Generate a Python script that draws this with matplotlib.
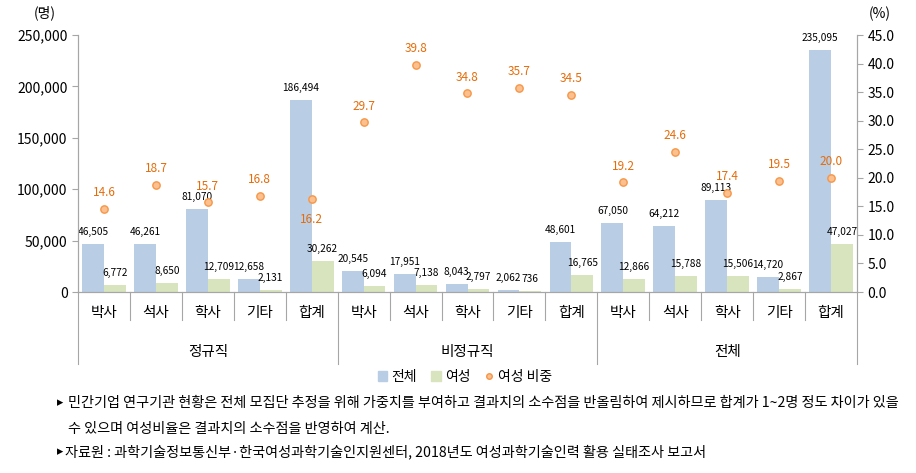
import numpy as np
import matplotlib.pyplot as plt
from matplotlib.lines import Line2D
from matplotlib.patches import Patch

plt.rcParams['font.family'] = ['Noto Sans CJK KR', 'DejaVu Sans']

# --- Data ---
groups = ['정규직', '비정규직', '전체']
degrees = ['박사', '석사', '학사', '기타', '합계']
total = [46505, 46261, 81070, 12658, 186494,
         20545, 17951, 8043, 2062, 48601,
         67050, 64212, 89113, 14720, 235095]
female = [6772, 8650, 12709, 2131, 30262,
          6094, 7138, 2797, 736, 16765,
          12866, 15788, 15506, 2867, 47027]
ratio = [14.6, 18.7, 15.7, 16.8, 16.2,
         29.7, 39.8, 34.8, 35.7, 34.5,
         19.2, 24.6, 17.4, 19.5, 20.0]
below = [4]  # ratio labels placed under the marker

blue = '#B9CDE5'
green = '#D7E4BD'
orange = '#F79646'
orange_txt = '#E46C0A'
gray = '#A6A6A6'

n = len(total)
x = np.arange(n)
w = 0.42

fig = plt.figure(figsize=(9.16, 4.73), dpi=100)
ax = fig.add_axes([78 / 916, 1 - 292 / 473, 779 / 916, 257 / 473])
ax2 = ax.twinx()

ax.bar(x - w / 2, total, w, color=blue, zorder=2)
ax.bar(x + w / 2, female, w, color=green, zorder=2)
for i in range(n):
    ax.annotate(f'{total[i]:,}', (x[i] - w / 2, total[i]), xytext=(0, 5),
                textcoords='offset points', ha='center', va='bottom', fontsize=7.3)
    ax.annotate(f'{female[i]:,}', (x[i] + w / 2, female[i]), xytext=(0, 5),
                textcoords='offset points', ha='center', va='bottom', fontsize=7.3)

ax2.scatter(x, ratio, s=28, color='#FAC090', edgecolors=orange, linewidths=1, zorder=3)
for i in range(n):
    dy = -10 if i in below else 7
    ax2.annotate(f'{ratio[i]:.1f}', (x[i], ratio[i]), xytext=(0, dy),
                 textcoords='offset points', ha='center',
                 va='top' if i in below else 'bottom', fontsize=8.5, color=orange_txt)

ax.set_xlim(-0.5, n - 0.5)
ax.set_ylim(0, 250000)
ax.set_yticks(np.arange(0, 250001, 50000))
ax.set_yticklabels([f'{v:,}' for v in range(0, 250001, 50000)], fontsize=10)
ax2.set_ylim(0, 45)
ax2.set_yticks(np.arange(0, 45.1, 5))
ax2.set_yticklabels([f'{v:.1f}' for v in np.arange(0, 45.1, 5)], fontsize=10)
ax.set_xticks([])

for a in (ax, ax2):
    a.spines['top'].set_visible(False)
    for s in ('left', 'right', 'bottom'):
        a.spines[s].set_color(gray)
    a.tick_params(axis='y', color=gray, length=4)

# category axis: labels and separators
tr = ax.get_xaxis_transform()
for i in range(n):
    ax.text(x[i], -0.08, degrees[i % 5], transform=tr, ha='center', va='center', fontsize=10.5)
for b in np.arange(n + 1) - 0.5:
    low = -0.28 if (b + 0.5) % 5 == 0 else -0.11
    ax.plot([b, b], [0, low], transform=tr, color=gray, lw=0.8, clip_on=False)
for g, name in enumerate(groups):
    ax.text(g * 5 + 2, -0.235, name, transform=tr, ha='center', va='center', fontsize=10.5)

fig.text(45 / 916, 1 - 13 / 473, '(명)', ha='center', va='center', fontsize=10)
fig.text(880 / 916, 1 - 14 / 473, '(%)', ha='center', va='center', fontsize=10)

handles = [Patch(color=blue), Patch(color=green),
           Line2D([], [], ls='', marker='o', ms=4, mfc='#FAC090', mec=orange)]
fig.legend(handles, ['전체', '여성', '여성 비중'], loc='center', bbox_to_anchor=(465 / 916, 1 - 377 / 473),
           ncol=3, frameon=False, fontsize=10, handlelength=0.7, handletextpad=0.3, columnspacing=1.0)

notes = ['민간기업 연구기관 현황은 전체 모집단 추정을 위해 가중치를 부여하고 결과치의 소수점을 반올림하여 제시하므로 합계가 1~2명 정도 차이가 있을',
         '수 있으며 여성비율은 결과치의 소수점을 반영하여 계산.',
         '자료원 : 과학기술정보통신부·한국여성과학기술인지원센터, 2018년도 여성과학기술인력 활용 실태조사 보고서']
fig.text(57 / 916, 1 - 403 / 473, '▸', ha='left', va='center', fontsize=9)
fig.text(68 / 916, 1 - 403 / 473, notes[0], ha='left', va='center', fontsize=10.2)
fig.text(68 / 916, 1 - 429 / 473, notes[1], ha='left', va='center', fontsize=10.2)
fig.text(57 / 916, 1 - 452 / 473, '▸', ha='left', va='center', fontsize=9)
fig.text(65 / 916, 1 - 452 / 473, notes[2], ha='left', va='center', fontsize=10.2)

fig.savefig('out.png', dpi=100)
